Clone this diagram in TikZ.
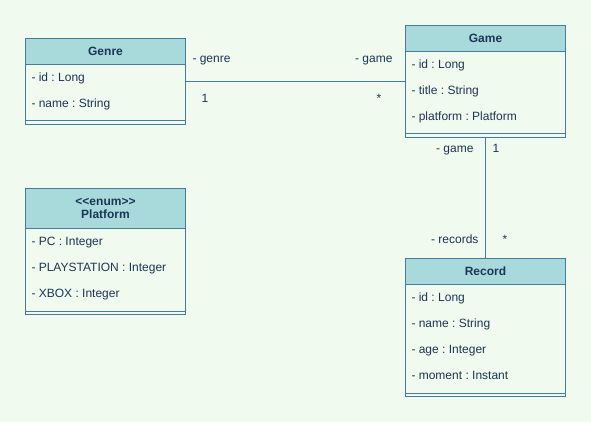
\documentclass[tikz,border=0pt]{standalone}
\usepackage{fontspec}
\setmainfont{Liberation Sans}
\usepackage{tikz}
\frenchspacing

\definecolor{umlbg}{HTML}{F1FAEE}
\definecolor{umlhead}{HTML}{A8DADC}
\definecolor{umlline}{HTML}{457B9D}
\definecolor{umltext}{HTML}{1D3557}

\begin{document}
\begin{tikzpicture}[x=1pt, y=-1pt, line width=1pt,
        font=\fontsize{12}{13}\selectfont,
        classbox/.style = {rectangle,
            draw=umlline, fill=umlbg,
            minimum width=160, inner sep=0,
            anchor=north west},
        classhead/.style = {rectangle,
            draw=umlline, fill=umlhead,
            minimum width=160, minimum height=26,
            inner sep=0, anchor=north west,
            align=center, text=umltext,
            font=\fontsize{12}{13}\selectfont\bfseries},
        attr/.style = {anchor=base west, inner sep=0, text=umltext},
        role/.style = {inner sep=0, text=umltext}]

        % Background
        \fill[umlbg] (0,0) rectangle (591,422);

        % Genre class
        \node[classbox, minimum height=86] (genre) at (25,38) {};
        \node[classhead] (genrehead) at (25,38) {Genre};
        \node[attr] (genreid) at (31,81.5) {- id : Long};
        \node[attr] (genrename) at (31,107.5) {- name : String};
        \draw[umlline] ([yshift=4pt]genre.south west) -- ([yshift=4pt]genre.south east);

        % Game class
        \node[classbox, minimum height=112] (game) at (405,25) {};
        \node[classhead] (gamehead) at (405,25) {Game};
        \node[attr] (gameid) at (411,68.5) {- id : Long};
        \node[attr] (gametitle) at (411,94.5) {- title : String};
        \node[attr] (gameplatform) at (411,120.5) {- platform : Platform};
        \draw[umlline] ([yshift=4pt]game.south west) -- ([yshift=4pt]game.south east);

        % Platform enum
        \node[classbox, minimum height=126] (platform) at (25,188) {};
        \node[classhead, minimum height=40] (platformhead) at (25,188) {<\kern0pt<enum>\kern0pt>\\Platform};
        \node[attr] (platformpc) at (31,245.5) {- PC : Integer};
        \node[attr] (platformps) at (31,271.5) {- PLAYSTATION : Integer};
        \node[attr] (platformxbox) at (31,297.5) {- XBOX : Integer};
        \draw[umlline] ([yshift=4pt]platform.south west) -- ([yshift=4pt]platform.south east);

        % Record class
        \node[classbox, minimum height=138] (record) at (405,258) {};
        \node[classhead] (recordhead) at (405,258) {Record};
        \node[attr] (recordid) at (411,301.5) {- id : Long};
        \node[attr] (recordname) at (411,327.5) {- name : String};
        \node[attr] (recordage) at (411,353.5) {- age : Integer};
        \node[attr] (recordmoment) at (411,379.5) {- moment : Instant};
        \draw[umlline] ([yshift=4pt]record.south west) -- ([yshift=4pt]record.south east);

        % Genre -- Game
        \coordinate (genreend) at ([yshift=-44pt]genre.north east);
        \draw[umlline] (genreend) -- (genreend -| game.west);
        \node[role, anchor=base west] (genrerole) at (192,63) {- genre};
        \node[role, anchor=base east] (gamerole) at (393,63) {- game};
        \node[role, anchor=base] (genremult) at (205,103) {1};
        \node[role, anchor=base] (gamemult) at (379,103) {*};

        % Game -- Record
        \draw[umlline] (game.south) -- (record.north);
        \node[role, anchor=base east] (recgamerole) at (474,153) {- game};
        \node[role, anchor=base west] (recgamemult) at (492,153) {1};
        \node[role, anchor=base east] (recordsrole) at (479,243) {- records};
        \node[role, anchor=base] (recordsmult) at (505,243) {*};

    \end{tikzpicture}
\end{document}
